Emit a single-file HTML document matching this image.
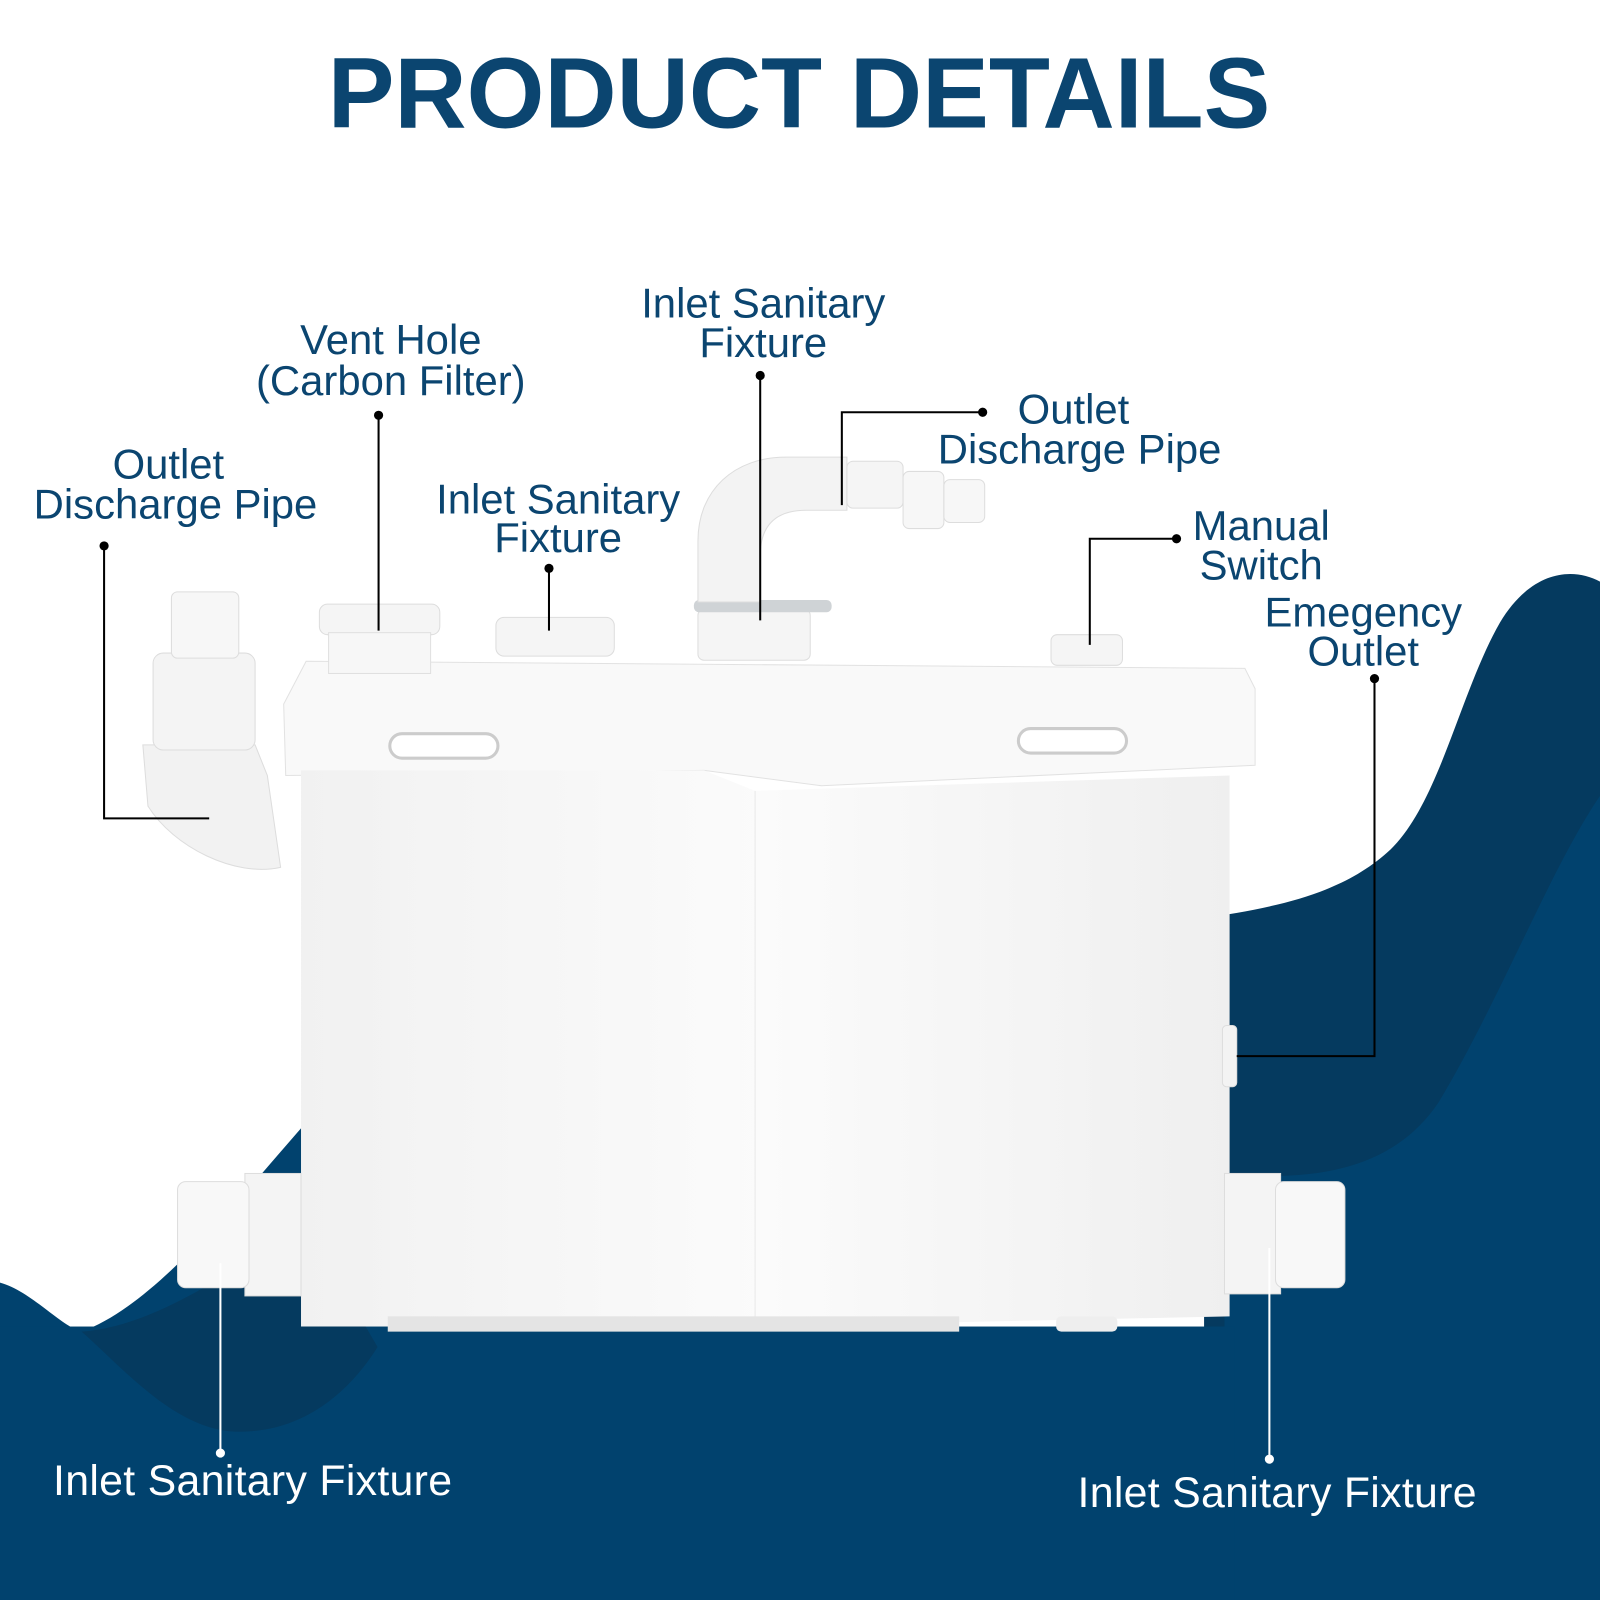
<!DOCTYPE html>
<html><head><meta charset="utf-8"><style>
html,body{margin:0;padding:0;background:#fff;}
svg{display:block;}
text{font-family:"Liberation Sans",sans-serif;}
</style></head><body>
<svg width="1600" height="1600" viewBox="0 0 1568 1568" xmlns="http://www.w3.org/2000/svg">
<defs>
<linearGradient id="bx" x1="0" x2="1"><stop offset="0" stop-color="#f1f1f1"/><stop offset="0.5" stop-color="#fbfbfb"/><stop offset="1" stop-color="#efefef"/></linearGradient>
</defs>
<rect width="1568" height="1568" fill="#fff"/>
<!-- right waves -->
<path d="M1568,570 C1540,555 1500,560 1470,610 C1430,680 1410,790 1360,835 C1310,880 1240,890 1180,900 L1180,1568 L1568,1568 Z" fill="#053a5f"/>
<path d="M1568,780 C1520,850 1470,980 1410,1080 C1370,1140 1300,1160 1200,1150 L1200,1568 L1568,1568 Z" fill="#01426e"/>
<!-- left waves -->
<path d="M0,1257 C30,1265 60,1300 80,1305 C150,1280 230,1180 300,1100 L300,1568 L0,1568 Z" fill="#01426e"/>
<rect x="0" y="1300" width="1210" height="268" fill="#01426e"/>
<path d="M80,1305 C120,1340 170,1400 230,1403 C300,1405 345,1360 370,1320 L300,1200 C220,1250 150,1300 80,1305 Z" fill="#053a5f"/>

<!-- title -->
<text x="783" y="125" text-anchor="middle" font-size="98" font-weight="bold" fill="#0b4570">PRODUCT DETAILS</text>

<!-- product -->
<path d="M140,730 L250,730 L262,760 L275,850 C230,860 170,830 145,790 Z" fill="#f2f2f2" stroke="#ddd"/>
<rect x="150" y="640" width="100" height="95" rx="10" fill="#f4f4f4" stroke="#ddd"/>
<rect x="168" y="580" width="66" height="65" rx="6" fill="#f7f7f7" stroke="#ddd"/>
<path d="M300,648 L1220,655 L1230,675 L1230,750 L805,770 L690,755 L280,760 L278,690 Z" fill="#f9f9f9" stroke="#e2e2e2"/>
<path d="M295,755 L690,755 L740,775 L1205,760 L1205,1290 L740,1300 L295,1300 Z" fill="url(#bx)"/>
<line x1="740" y1="775" x2="740" y2="1300" stroke="#e8e8e8"/>
<rect x="380" y="1290" width="560" height="15" fill="#e4e4e4"/>
<rect x="1035" y="1290" width="60" height="15" rx="5" fill="#eee"/>
<rect x="382" y="719" width="106" height="24" rx="12" fill="#fff" stroke="#ccc" stroke-width="3"/>
<rect x="998" y="714" width="106" height="24" rx="12" fill="#fff" stroke="#ccc" stroke-width="3"/>
<rect x="313" y="592" width="118" height="30" rx="8" fill="#f5f5f5" stroke="#ddd"/>
<rect x="322" y="620" width="100" height="40" fill="#f7f7f7" stroke="#e0e0e0"/>
<rect x="486" y="605" width="116" height="38" rx="8" fill="#f5f5f5" stroke="#ddd"/>
<rect x="684" y="597" width="110" height="50" rx="6" fill="#f5f5f5" stroke="#ddd"/>
<rect x="680" y="588" width="135" height="12" rx="5" fill="#cfd3d6"/>
<rect x="1030" y="622" width="70" height="30" rx="6" fill="#f5f5f5" stroke="#ddd"/>
<path d="M684,590 L684,530 C684,480 720,448 770,448 L830,448 L830,500 L790,500 C760,500 745,515 745,545 L745,590 Z" fill="#f3f3f3" stroke="#ddd"/>
<rect x="830" y="452" width="55" height="46" rx="6" fill="#f5f5f5" stroke="#ddd"/>
<rect x="885" y="462" width="40" height="56" rx="6" fill="#f7f7f7" stroke="#ddd"/>
<rect x="925" y="470" width="40" height="42" rx="6" fill="#f7f7f7" stroke="#ddd"/>
<rect x="1198" y="1005" width="14" height="60" rx="4" fill="#f3f3f3" stroke="#ddd"/>
<rect x="240" y="1150" width="55" height="120" fill="#f4f4f4" stroke="#ddd"/>
<rect x="174" y="1158" width="70" height="104" rx="8" fill="#f8f8f8" stroke="#ddd"/>
<rect x="1200" y="1150" width="55" height="118" fill="#f4f4f4" stroke="#ddd"/>
<rect x="1250" y="1158" width="68" height="104" rx="8" fill="#f8f8f8" stroke="#ddd"/>

<!-- connectors -->
<g stroke="#000" stroke-width="2" fill="none">
<polyline points="102,535 102,802 205,802"/>
<line x1="371" y1="407" x2="371" y2="618"/>
<line x1="538" y1="557" x2="538" y2="618"/>
<line x1="745" y1="368" x2="745" y2="608"/>
<polyline points="963,404 825,404 825,495"/>
<polyline points="1153,528 1068,528 1068,632"/>
<polyline points="1347,665 1347,1035 1212,1035"/>
</g>
<g fill="#000">
<circle cx="102" cy="535" r="4.5"/><circle cx="371" cy="407" r="4.5"/><circle cx="538" cy="557" r="4.5"/>
<circle cx="745" cy="368" r="4.5"/><circle cx="963" cy="404" r="4.5"/><circle cx="1153" cy="528" r="4.5"/><circle cx="1347" cy="665" r="4.5"/>
</g>
<g stroke="#fff" stroke-width="2">
<line x1="216" y1="1238" x2="216" y2="1424"/>
<line x1="1244" y1="1223" x2="1244" y2="1430"/>
</g>
<circle cx="216" cy="1424" r="4.5" fill="#fff"/><circle cx="1244" cy="1430" r="4.5" fill="#fff"/>

<!-- labels -->
<g fill="#0b4570" font-size="41" text-anchor="middle">
<text x="165" y="469">Outlet</text><text x="172" y="508">Discharge Pipe</text>
<text x="383" y="347">Vent Hole</text><text x="383" y="387">(Carbon Filter)</text>
<text x="547" y="503">Inlet Sanitary</text><text x="547" y="541">Fixture</text>
<text x="748" y="311">Inlet Sanitary</text><text x="748" y="350">Fixture</text>
<text x="1052" y="415">Outlet</text><text x="1058" y="454">Discharge Pipe</text>
<text x="1236" y="529">Manual</text><text x="1236" y="568">Switch</text>
<text x="1336" y="614">Emegency</text><text x="1336" y="652">Outlet</text>
</g>
<g fill="#fff" font-size="42">
<text x="52" y="1465" textLength="391">Inlet Sanitary Fixture</text>
<text x="1056" y="1477" textLength="391">Inlet Sanitary Fixture</text>
</g>
</svg>
</body></html>
